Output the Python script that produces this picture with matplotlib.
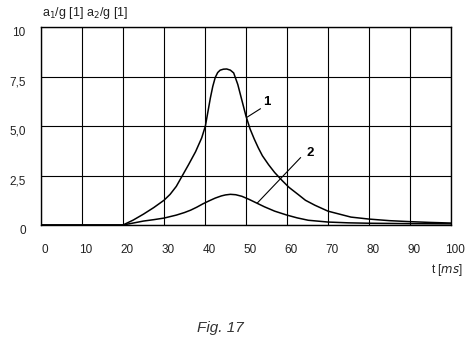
import matplotlib
matplotlib.use("Agg")
import matplotlib.pyplot as plt
from matplotlib.transforms import ScaledTranslation

# curve 1: a1/g over time
t1 = [0, 10, 20, 22.5, 25, 27.5, 30, 31.5, 33, 34.5, 36, 37.7, 39.2, 40.1,
      40.7, 41.3, 41.9, 42.5, 43.1, 43.7, 44.5, 45.3, 46.2, 47, 48, 49, 50, 51,
      52, 53, 54, 55.5, 57, 58.8, 60.5, 62.8, 64.5, 66.8, 70, 75.6, 80, 85, 90,
      95, 100]
a1 = [0, 0, 0, 0.25, 0.55, 0.88, 1.25, 1.55, 1.95, 2.5, 3.05, 3.7, 4.4, 5.0,
      5.7, 6.4, 7.0, 7.45, 7.7, 7.82, 7.87, 7.88, 7.82, 7.68, 7.1, 6.3, 5.5,
      4.85, 4.35, 3.9, 3.5, 3.05, 2.65, 2.25, 1.9, 1.53, 1.25, 1.0, 0.7, 0.4,
      0.3, 0.22, 0.17, 0.13, 0.1]

# curve 2: a2/g over time
t2 = [0, 10, 20, 22.5, 25, 27.5, 30, 33, 35, 36.5, 38, 39.5, 41, 42.5, 44,
      45, 46.2, 47.5, 49, 50.7, 52.5, 54.5, 57, 60, 62.5, 65.2, 70, 75, 80,
      90, 100]
a2 = [0, 0, 0, 0.1, 0.2, 0.27, 0.35, 0.5, 0.63, 0.75, 0.9, 1.07, 1.22, 1.36,
      1.47, 1.52, 1.55, 1.53, 1.45, 1.3, 1.12, 0.92, 0.7, 0.5, 0.36, 0.24,
      0.15, 0.11, 0.09, 0.07, 0.06]

xticks = [0, 10, 20, 30, 40, 50, 60, 70, 80, 90, 100]
yticks = [0, 2.5, 5.0, 7.5, 10]
ylabels = ["0", "2,5", "5,0", "7,5", "10"]

plt.rcParams["font.family"] = ["Liberation Sans", "DejaVu Sans"]

fig = plt.figure(figsize=(4.71, 3.48), dpi=100, facecolor="white")
ax = fig.add_axes([0.087, 0.3534, 0.8705, 0.569])

ax.plot(t1, a1, color="black", lw=1.1)
ax.plot(t2, a2, color="black", lw=1.1)

ax.set_xlim(0, 100)
ax.set_ylim(0, 10)
ax.set_xticks(xticks)
ax.set_xticklabels([str(v) for v in xticks])
ax.set_yticks(yticks)
ax.set_yticklabels(ylabels)
ax.grid(True, color="black", lw=0.8)
ax.tick_params(length=0, labelsize=8.5, colors="#222222")
ax.tick_params(axis="x", pad=14)
ax.tick_params(axis="y", pad=11)
for s in ax.spines.values():
    s.set_linewidth(1.0)

# labels sit a bit off their gridlines in the original
for lab in ax.get_xticklabels():
    lab.set_transform(lab.get_transform() + ScaledTranslation(0.04, 0, fig.dpi_scale_trans))
for lab in ax.get_yticklabels():
    lab.set_transform(lab.get_transform() + ScaledTranslation(0, -0.04, fig.dpi_scale_trans))

# curve markers
ax.plot([50.3, 53.5], [5.45, 5.87], color="black", lw=0.8)
ax.text(54.3, 6.2, "1", fontsize=9.5, fontweight="bold", ha="left", va="center")
ax.plot([52.8, 63.3], [1.12, 3.4], color="black", lw=0.8)
ax.text(64.8, 3.65, "2", fontsize=9.5, fontweight="bold", ha="left", va="center")

fig.text(42 / 471, 1 - 13 / 348, r"a$_1$/g [1] a$_2$/g [1]", fontsize=9,
         ha="left", va="center", color="#222222")
fig.text(463 / 471, 1 - 270 / 348, r"t [$\mathit{ms}$]", fontsize=8.5,
         ha="right", va="center", color="#222222")
fig.text(220 / 471, 1 - 328 / 348, "Fig. 17", fontsize=11, style="italic",
         ha="center", va="center", color="#333333")

fig.savefig("out.png", dpi=100, facecolor="white")
